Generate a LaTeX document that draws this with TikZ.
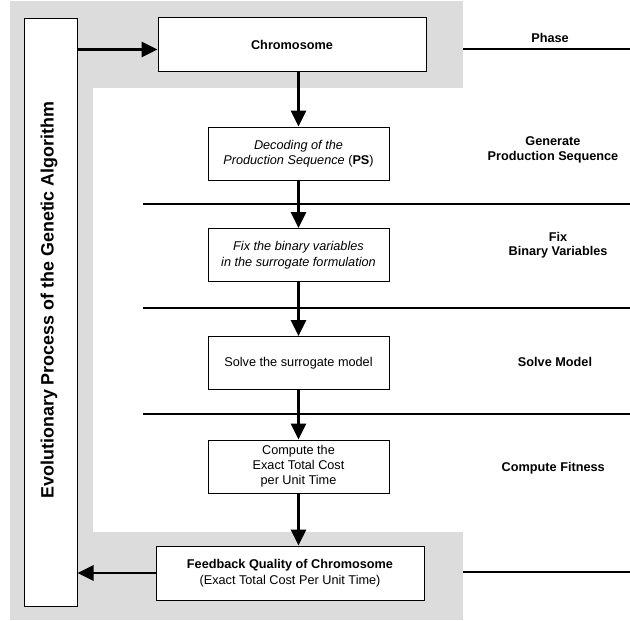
\documentclass[tikz,border=0pt]{standalone}
\usepackage{fontspec}
\setmainfont{Liberation Sans}
\usetikzlibrary{arrows.meta, calc, positioning}
\definecolor{mygray}{RGB}{220, 220, 220}

\begin{document}
\begin{tikzpicture}[x=1pt, y=-1pt, line width=1pt,
	>={Triangle[length=16pt, width=15pt]},
	stepbox/.style={draw, fill=white, minimum width=181pt, minimum height=53pt,
		inner sep=0pt, align=center, font=\fontsize{12.7}{15.5}\selectfont},
	widebox/.style={stepbox, minimum width=268pt, minimum height=54pt},
	phaselabel/.style={align=center, font=\fontsize{12.7}{14.5}\selectfont\bfseries},
	flow/.style={->, line width=2.8pt},
	phaseline/.style={line width=1.2pt}]
	
	\useasboundingbox (0,0) rectangle (630,621);
	
	% grey frame round the loop
	\fill[mygray] (10,1) rectangle (463,620);
	\fill[white] (93,88) rectangle (630,532);
	
	% evolution bar
	\node[draw, fill=white, minimum width=53pt, minimum height=588pt] (evo) at (50.5,312) {};
	\node[rotate=90, font=\fontsize{17.9}{19}\selectfont\bfseries] (evolabel) at (49,300)
		{Evolutionary Process of the Genetic Algorithm};
	
	% steps
	\node[widebox, font=\fontsize{12.7}{15.5}\selectfont\bfseries] (chromo) at (292,44.5) {Chromosome};
	\node[stepbox] (dec) at (298.5,153.5) {\textit{Decoding of the}\\\textit{Production Sequence} (\textbf{PS})};
	\node[stepbox] (fix) at (298.5,255) {\textit{Fix the binary variables}\\\textit{in the surrogate formulation}};
	\node[stepbox] (solve) at (298.5,363) {Solve the surrogate model};
	\node[stepbox, font=\fontsize{12.7}{15}\selectfont] (comp) at (298.5,466.5) {Compute the\\Exact Total Cost\\per Unit Time};
	\node[widebox, font=\fontsize{12.7}{16}\selectfont] (feed) at (290,573)
		{\textbf{Feedback Quality of Chromosome}\\(Exact Total Cost Per Unit Time)};
	
	% flow arrows
	\draw[flow] ($(evo.east |- chromo.west)+(0,5)$) -- ($(chromo.west)+(0,5)$);
	\draw[flow] (chromo.south -| dec.north) -- (dec.north);
	\draw[flow] (dec) -- (fix);
	\draw[flow] (fix) -- (solve);
	\draw[flow] (solve) -- (comp);
	\draw[flow] (comp.south) -- (comp.south |- feed.north);
	\draw[flow] (feed.west) -- (feed.west -| evo.east);
	
	% phase column
	\draw[phaseline] (463,49) -- (630,49);
	\draw[phaseline] (463,572) -- (630,572);
	\foreach \y in {204,308,414}
		\draw[phaseline] (143,\y) -- (630,\y);
	
	\node[phaselabel] (phasehead) at (550,38) {Phase};
	\foreach \name/\x/\y/\txt in {
		genph/553/150/{Generate\\Production Sequence},
		fixph/558/245/{Fix\\Binary Variables},
		solveph/555/362/{Solve Model},
		compph/555/468/{Compute Fitness}
	}{
		\node[phaselabel] (\name) at (\x,\y) {\txt};
	}
	
\end{tikzpicture}
\end{document}
